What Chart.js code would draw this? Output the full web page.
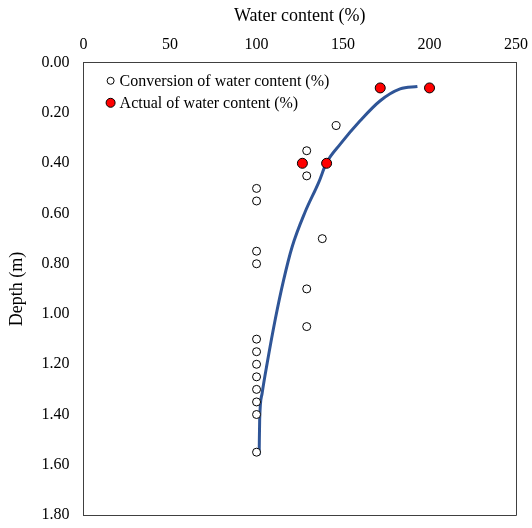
<!DOCTYPE html>
<html>
<head>
<meta charset="utf-8">
<script src="https://cdn.jsdelivr.net/npm/chart.js@4/dist/chart.umd.min.js"></script>
<style>
  html, body { margin: 0; padding: 0; background: #ffffff; }
  canvas { display: block; }
</style>
</head>
<body>
<canvas id="depthChart" width="532" height="528"></canvas>
<script>
// values
const convWater = [146, 129, 129, 100, 100, 138, 100, 100, 129, 129, 100, 100, 100, 100, 100, 100, 100, 100];
const convDepth = [0.25, 0.35, 0.45, 0.50, 0.55, 0.70, 0.75, 0.80, 0.90, 1.05, 1.10, 1.15, 1.20, 1.25, 1.30, 1.35, 1.40, 1.55];
const actWater = [171.5, 200, 126.5, 140.5];
const actDepth = [0.10, 0.10, 0.40, 0.40];
// trend curve
const fitWater = [193, 183, 171.5, 160, 148.5, 140.3, 136, 128, 120.5, 115.6, 110.9, 106.1, 103.2, 101.8, 101.5];
const fitDepth = [0.094, 0.104, 0.151, 0.23, 0.323, 0.40, 0.475, 0.595, 0.734, 0.866, 1.018, 1.197, 1.316, 1.42, 1.56];
const xTicks = [0, 50, 100, 150, 200, 250];
const yTicks = [0, 0.2, 0.4, 0.6, 0.8, 1.0, 1.2, 1.4, 1.6, 1.8];

function toPoints(xs, ys) {
    return xs.map(function (x, i) { return { x: x, y: ys[i] }; });
}

var serif = "'Liberation Serif', 'Times New Roman', serif";
var frameColor = '#404040';

// closes the plot frame and draws the legend box inside the plot, top left
var framePlugin = {
    id: 'frameAndLegend',
    afterDatasetsDraw: function (chart) {
        var a = chart.chartArea;
        var c = chart.ctx;
        c.save();
        c.strokeStyle = frameColor;
        c.lineWidth = 1;
        c.beginPath();
        c.moveTo(a.right + 0.5, a.top);
        c.lineTo(a.right + 0.5, a.bottom + 0.5);
        c.lineTo(a.left, a.bottom + 0.5);
        c.stroke();

        c.font = '16px ' + serif;
        c.textBaseline = 'middle';
        var rows = [0, 1];
        rows.forEach(function (idx, r) {
            var ds = chart.data.datasets[idx];
            var cx = a.left + 27;
            var cy = a.top + 18 + r * 22;
            c.beginPath();
            c.arc(cx, cy, idx === 0 ? 3.5 : 4.5, 0, Math.PI * 2);
            c.fillStyle = ds.pointBackgroundColor;
            c.fill();
            c.strokeStyle = ds.pointBorderColor;
            c.lineWidth = 1;
            c.stroke();
            c.fillStyle = '#000000';
            c.fillText(ds.label, cx + 9, cy + 1);
        });
        c.restore();
    }
};

var ctx = document.getElementById('depthChart').getContext('2d');

var myChart = new Chart(ctx, {
    type: 'scatter',
    data: {
        datasets: [{
            label: 'Conversion of water content (%)',
            data: toPoints(convWater, convDepth),
            pointStyle: 'circle',
            pointRadius: 4,
            pointBackgroundColor: '#ffffff',
            pointBorderColor: '#000000',
            pointBorderWidth: 1,
            order: 1
        }, {
            label: 'Actual of water content (%)',
            data: toPoints(actWater, actDepth),
            pointStyle: 'circle',
            pointRadius: 5,
            pointBackgroundColor: '#ff0000',
            pointBorderColor: '#000000',
            pointBorderWidth: 1,
            order: 2
        }, {
            label: 'fit',
            data: toPoints(fitWater, fitDepth),
            showLine: true,
            pointRadius: 0,
            borderColor: '#2f5597',
            borderWidth: 3,
            cubicInterpolationMode: 'monotone',
            fill: false,
            order: 3
        }]
    },
    options: {
        responsive: false,
        animation: false,
        layout: { padding: { left: 2, right: 16, top: 1, bottom: 13 } },
        plugins: {
            tooltip: { enabled: false },
            legend: { display: false }
        },
        scales: {
            x: {
                type: 'linear',
                position: 'top',
                min: 0,
                max: 250,
                afterBuildTicks: function (axis) { axis.ticks = xTicks.map(function (v) { return { value: v }; }); },
                afterFit: function (axis) { axis.paddingLeft = 0; axis.paddingRight = 0; },
                grid: { display: false, drawTicks: false },
                border: { display: true, color: frameColor, width: 1 },
                ticks: { color: '#000000', padding: 8, font: { family: serif, size: 16 } },
                title: { display: true, text: 'Water content (%)', color: '#000000', padding: { top: 4, bottom: 1 }, font: { family: serif, size: 18 } }
            },
            y: {
                type: 'linear',
                reverse: true,
                min: 0,
                max: 1.8,
                afterBuildTicks: function (axis) { axis.ticks = yTicks.map(function (v) { return { value: v }; }); },
                afterFit: function (axis) { axis.paddingTop = 0; axis.paddingBottom = 0; },
                grid: { display: false, drawTicks: false },
                border: { display: true, color: frameColor, width: 1 },
                ticks: {
                    color: '#000000',
                    padding: 14,
                    font: { family: serif, size: 16 },
                    callback: function (v) { return Number(v).toFixed(2); }
                },
                title: { display: true, text: 'Depth (m)', color: '#000000', padding: { top: 4, bottom: 0 }, font: { family: serif, size: 18 } }
            }
        }
    },
    plugins: [framePlugin]
});
</script>
</body>
</html>
